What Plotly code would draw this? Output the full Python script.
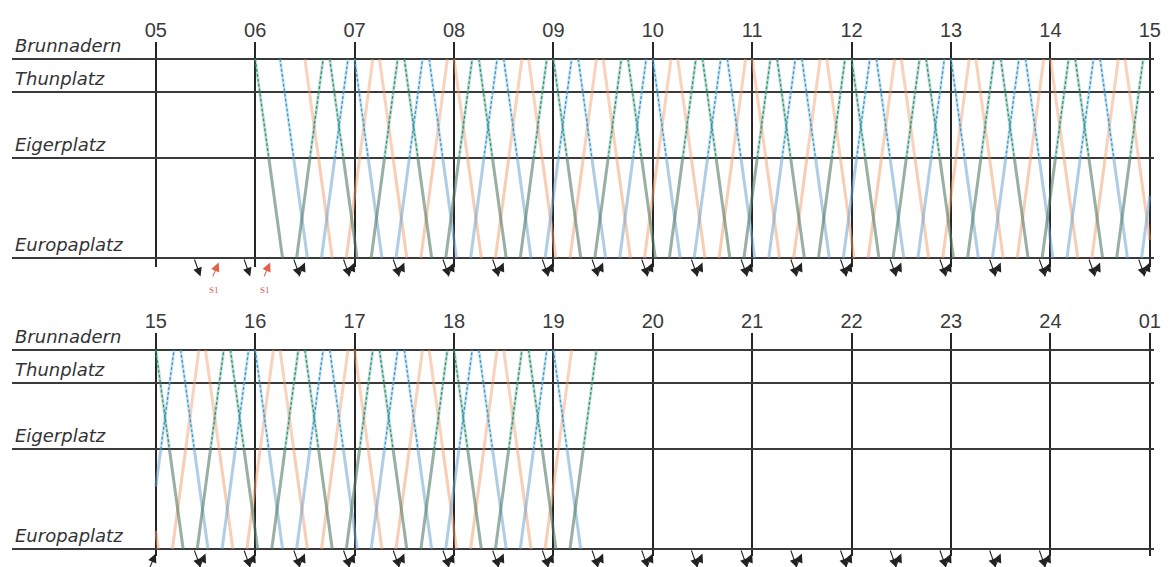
import plotly.graph_objects as go

# ---------------- data ----------------
stations = ["Brunnadern", "Thunplatz", "Eigerplatz", "Europaplatz"]
station_km = [0.0, 0.5, 1.5, 3.0]
run_down_min = [0.0, 2.75, 8.25, 16.5]   # minutes after Brunnadern departure
run_up_min = [16.0, 13.3, 8.0, 0.0]      # minutes after Europaplatz departure

top_hours = [5, 6, 7, 8, 9, 10, 11, 12, 13, 14, 15]
top_hour_labels = ["05", "06", "07", "08", "09", "10", "11", "12", "13", "14", "15"]
bottom_hours = [15, 16, 17, 18, 19, 20, 21, 22, 23, 24, 25]
bottom_hour_labels = ["15", "16", "17", "18", "19", "20", "21", "22", "23", "24", "01"]

# departures from Brunnadern (towards Europaplatz)
down_dep = [
    "06:00", "06:15", "06:30", "06:45", "07:00", "07:15", "07:30", "07:45",
    "08:00", "08:15", "08:30", "08:45", "09:00", "09:15", "09:30", "09:45",
    "10:00", "10:15", "10:30", "10:45", "11:00", "11:15", "11:30", "11:45",
    "12:00", "12:15", "12:30", "12:45", "13:00", "13:15", "13:30", "13:45",
    "14:00", "14:15", "14:30", "14:45", "15:00", "15:15", "15:30", "15:45",
    "16:00", "16:15", "16:30", "16:45", "17:00", "17:15", "17:30", "17:45",
    "18:00", "18:15", "18:30", "18:45", "19:00",
]
down_veh = "ABCABCABCABCABCABCABCABCABCABCABCABCABCABCABCABCABCAB"

# departures from Europaplatz (towards Brunnadern)
up_dep = [
    "06:25", "06:40", "06:55", "07:10", "07:25", "07:40", "07:55",
    "08:10", "08:25", "08:40", "08:55", "09:10", "09:25", "09:40", "09:55",
    "10:10", "10:25", "10:40", "10:55", "11:10", "11:25", "11:40", "11:55",
    "12:10", "12:25", "12:40", "12:55", "13:10", "13:25", "13:40", "13:55",
    "14:10", "14:25", "14:40", "14:55", "15:10", "15:25", "15:40", "15:55",
    "16:10", "16:25", "16:40", "16:55", "17:10", "17:25", "17:40", "17:55",
    "18:10", "18:25", "18:40", "18:55", "19:10",
]
up_veh = "ABCABCABCABCABCABCABCABCABCABCABCABCABCABCABCABCABCA"

# connections at Europaplatz (bus -> train, train -> bus)
top_to_train = [
    "05:23", "05:53", "06:23", "06:53", "07:23", "07:53", "08:23", "08:53",
    "09:23", "09:53", "10:23", "10:53", "11:23", "11:53", "12:23", "12:53",
    "13:23", "13:53", "14:23", "14:53",
]
top_from_train_s1 = ["05:38", "06:09"]
top_from_train = [
    "06:30", "07:00", "07:30", "08:00", "08:30", "09:00", "09:30", "10:00",
    "10:30", "11:00", "11:30", "12:00", "12:30", "13:00", "13:30", "14:00",
    "14:30", "15:00",
]
bottom_to_train = [
    "15:23", "15:53", "16:23", "16:53", "17:23", "17:53", "18:23", "18:53",
    "19:23", "19:53", "20:23", "20:53", "21:23", "21:53", "22:23", "22:53",
    "23:23", "23:53",
]
bottom_from_train = [
    "15:00", "15:30", "16:00", "16:30", "17:00", "17:30", "18:00", "18:30",
    "19:00", "19:30", "20:00", "20:30", "21:00", "21:30", "22:00", "22:30",
    "23:00", "23:30", "24:00",
]

# ---------------- styling ----------------
OFF = 8                      # page body margin of the html page
FW, FH = 1176 - OFF, 567 - OFF


def fx(px):
    return (px - OFF) / FW


def fy(py):
    return (FH - (py - OFF)) / FH


thick_low = {"A": "rgba(88,128,108,0.62)", "B": "rgba(110,165,210,0.55)", "C": "rgba(240,155,105,0.50)"}
thick_up = {"A": "rgba(88,128,108,0.30)", "B": "rgba(110,165,210,0.30)", "C": "rgba(240,155,105,0.45)"}
dash_col = {"A": "#169f85", "B": "#2f9bcc"}


def hm(s):
    h, m = s.split(":")
    return int(h) + int(m) / 60.0


def clip_poly(pts, lo, hi):
    pts = sorted(pts)
    out = []
    for (x0, y0), (x1, y1) in zip(pts[:-1], pts[1:]):
        if x1 < lo or x0 > hi:
            continue
        a, b = (x0, y0), (x1, y1)
        if x0 < lo:
            a = (lo, y0 + (y1 - y0) * (lo - x0) / (x1 - x0))
        if x1 > hi:
            b = (hi, y0 + (y1 - y0) * (hi - x0) / (x1 - x0))
        if not out or out[-1] != a:
            out.append(a)
        out.append(b)
    return out


def trips():
    res = []
    for t, v in zip(down_dep, down_veh):
        res.append((v, [(hm(t) + r / 60.0, k) for r, k in zip(run_down_min, station_km)]))
    for t, v in zip(up_dep, up_veh):
        res.append((v, [(hm(t) + r / 60.0, k) for r, k in zip(run_up_min, station_km)]))
    return res


panels = [
    dict(lo=5, hi=15, xa="x", ya="y"),
    dict(lo=15, hi=25, xa="x2", ya="y2"),
]

fig = go.Figure()


def add_lines(xs, ys, color, width, dash, p):
    fig.add_trace(go.Scatter(x=xs, y=ys, mode="lines",
                             line=dict(color=color, width=width, dash=dash),
                             xaxis=p["xa"], yaxis=p["ya"], hoverinfo="skip",
                             showlegend=False, connectgaps=False))


for p in panels:
    low = {v: ([], []) for v in "ABC"}
    upp = {v: ([], []) for v in "ABC"}
    dashed = {v: ([], []) for v in "AB"}
    for v, pts in trips():
        upper = [q for q in pts if q[1] <= 1.5]
        lower = [q for q in pts if q[1] >= 1.5]
        for part, store in ((upper, upp), (lower, low)):
            seg = clip_poly(part, p["lo"], p["hi"])
            if seg:
                store[v][0].extend([s[0] for s in seg] + [None])
                store[v][1].extend([s[1] for s in seg] + [None])
        if v in dashed:
            seg = clip_poly(upper, p["lo"], p["hi"])
            if seg:
                dashed[v][0].extend([s[0] for s in seg] + [None])
                dashed[v][1].extend([s[1] for s in seg] + [None])
    for v in "CBA":
        add_lines(upp[v][0], upp[v][1], thick_up[v], 3, "solid", p)
        add_lines(low[v][0], low[v][1], thick_low[v], 3, "solid", p)
    for v in "AB":
        add_lines(dashed[v][0], dashed[v][1], dash_col[v], 1.3, "3px,2px", p)

annotations = []


def arrow_down(t, xr, yr, color="#222"):
    x = hm(t)
    annotations.append(dict(x=x + 4 / 60.0, y=3.28, ax=x, ay=3.0, xref=xr, yref=yr,
                            axref=xr, ayref=yr, text="", showarrow=True, arrowhead=2,
                            arrowsize=1.6, arrowwidth=1.1, arrowcolor=color, standoff=0))


def arrow_up(t, xr, yr, color="#222"):
    x = hm(t)
    annotations.append(dict(x=x, y=3.07, ax=x - 4 / 60.0, ay=3.3, xref=xr, yref=yr,
                            axref=xr, ayref=yr, text="", showarrow=True, arrowhead=2,
                            arrowsize=1.6, arrowwidth=1.1, arrowcolor=color, standoff=0))


for t in top_to_train:
    arrow_down(t, "x", "y")
for t in top_from_train:
    arrow_up(t, "x", "y")
for t in top_from_train_s1:
    arrow_up(t, "x", "y", color="#e0604a")
    annotations.append(dict(x=hm(t) - 3 / 60.0, y=fy(290), xref="x", yref="paper",
                            text="S1", showarrow=False,
                            font=dict(family="Liberation Serif", size=9, color="#d9534f")))
for t in bottom_to_train:
    arrow_down(t, "x2", "y2")
for t in bottom_from_train:
    arrow_up(t, "x2", "y2")

for yr in ["y", "y2"]:
    for name, km in zip(stations, station_km):
        annotations.append(dict(x=fx(13), y=km, xref="paper", yref=yr, xanchor="left",
                                yanchor="bottom", yshift=1, text=name, showarrow=False,
                                font=dict(family="DejaVu Sans", size=18, color="#333333",
                                          style="italic")))

xdom = [fx(12), fx(1161)]
common_x = dict(domain=xdom, side="top", showgrid=True, gridcolor="#262626", gridwidth=2,
                ticks="", showline=False, zeroline=False,
                tickfont=dict(family="Liberation Sans", size=20, color="#3a3a3a"))
common_y = dict(tickvals=station_km, showticklabels=False, showgrid=True, gridcolor="#3a3a3a",
                gridwidth=2, zeroline=False, showline=False, ticks="")

fig.update_layout(
    width=FW, height=FH, margin=dict(l=0, r=0, t=0, b=0),
    paper_bgcolor="white", plot_bgcolor="white",
    xaxis=dict(common_x, range=[3.553, 15.043], tickvals=top_hours, ticktext=top_hour_labels,
               anchor="y"),
    yaxis=dict(common_y, domain=[fy(267), fy(42)], range=[3.136, -0.256], anchor="x"),
    xaxis2=dict(common_x, range=[13.553, 25.043], tickvals=bottom_hours,
                ticktext=bottom_hour_labels, anchor="y2"),
    yaxis2=dict(common_y, domain=[fy(556), fy(333)], range=[3.106, -0.256], anchor="x2"),
    annotations=annotations,
    showlegend=False,
)

fig.write_html("out.html")
